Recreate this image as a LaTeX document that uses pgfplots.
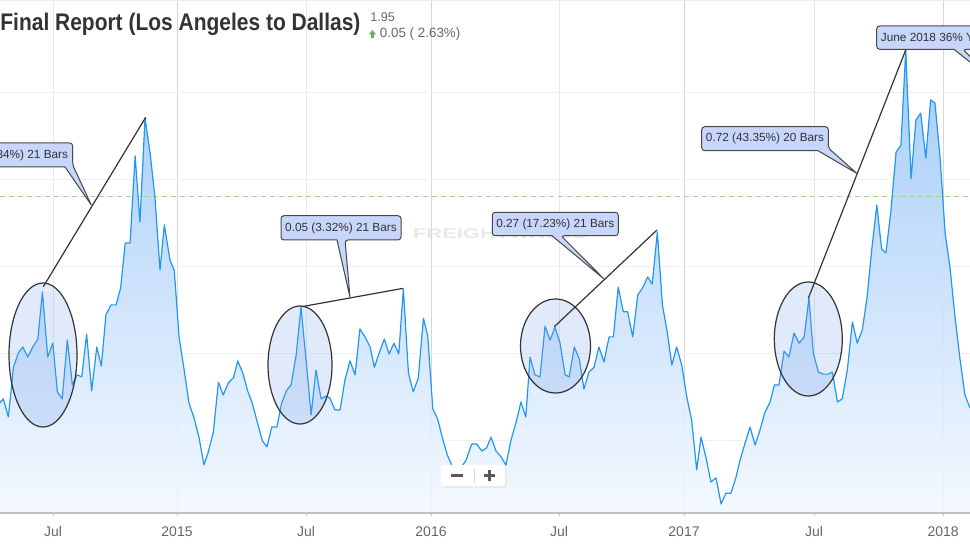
\documentclass[border=0pt]{standalone}
\usepackage{fontspec}
\setmainfont{Liberation Sans}
\usepackage{graphicx}
\usepackage{pgfplots}
\usepackage{pgfplotstable}
\pgfplotsset{compat=1.18}
\definecolor{lineblue}{RGB}{33,150,243}
\definecolor{areatop}{RGB}{155,198,248}
\definecolor{areabot}{RGB}{242,248,255}
\definecolor{callfill}{RGB}{199,214,250}
\definecolor{ellfill}{RGB}{120,160,232}
\definecolor{txtdark}{RGB}{51,51,51}
\definecolor{txtgray}{RGB}{102,102,102}
\definecolor{upgreen}{RGB}{102,178,80}
\definecolor{dashgreen}{RGB}{165,214,150}

\pgfplotstableread{
x y
2014.303 1.358
2014.316 1.370
2014.336 1.318
2014.356 1.461
2014.375 1.502
2014.393 1.519
2014.412 1.490
2014.432 1.519
2014.452 1.542
2014.470 1.677
2014.491 1.490
2014.511 1.530
2014.529 1.390
2014.548 1.370
2014.568 1.539
2014.588 1.410
2014.607 1.439
2014.625 1.433
2014.644 1.556
2014.664 1.393
2014.684 1.519
2014.702 1.464
2014.720 1.611
2014.740 1.640
2014.760 1.640
2014.778 1.689
2014.796 1.818
2014.815 1.818
2014.835 2.068
2014.854 1.878
2014.874 2.177
2014.894 2.076
2014.913 1.950
2014.933 1.740
2014.950 1.870
2014.972 1.769
2014.989 1.740
2015.008 1.548
2015.028 1.453
2015.047 1.358
2015.067 1.315
2015.087 1.257
2015.106 1.180
2015.123 1.217
2015.143 1.275
2015.163 1.418
2015.182 1.381
2015.202 1.416
2015.222 1.430
2015.239 1.479
2015.259 1.444
2015.278 1.393
2015.296 1.358
2015.316 1.303
2015.336 1.249
2015.354 1.232
2015.373 1.289
2015.393 1.289
2015.412 1.358
2015.432 1.395
2015.449 1.410
2015.469 1.496
2015.488 1.634
2015.508 1.482
2015.528 1.324
2015.547 1.453
2015.567 1.370
2015.587 1.378
2015.602 1.372
2015.622 1.338
2015.642 1.338
2015.661 1.424
2015.681 1.479
2015.701 1.439
2015.720 1.571
2015.740 1.548
2015.760 1.519
2015.777 1.461
2015.796 1.502
2015.816 1.542
2015.835 1.499
2015.854 1.530
2015.873 1.499
2015.891 1.686
2015.911 1.444
2015.930 1.390
2015.950 1.430
2015.970 1.602
2015.987 1.551
2016.007 1.341
2016.026 1.312
2016.044 1.260
2016.064 1.209
2016.083 1.177
2016.102 1.166
2016.122 1.177
2016.138 1.194
2016.160 1.240
2016.180 1.240
2016.200 1.220
2016.219 1.229
2016.236 1.260
2016.256 1.220
2016.276 1.203
2016.295 1.180
2016.315 1.252
2016.335 1.303
2016.354 1.361
2016.373 1.318
2016.390 1.490
2016.409 1.439
2016.429 1.433
2016.449 1.579
2016.469 1.539
2016.488 1.576
2016.508 1.530
2016.528 1.439
2016.544 1.433
2016.564 1.519
2016.584 1.484
2016.602 1.398
2016.622 1.447
2016.642 1.461
2016.661 1.519
2016.681 1.476
2016.701 1.548
2016.718 1.548
2016.737 1.691
2016.757 1.620
2016.774 1.620
2016.794 1.548
2016.814 1.668
2016.833 1.689
2016.853 1.720
2016.871 1.700
2016.891 1.849
2016.911 1.640
2016.930 1.562
2016.948 1.467
2016.967 1.519
2016.987 1.467
2017.007 1.375
2017.026 1.309
2017.046 1.166
2017.063 1.260
2017.083 1.200
2017.102 1.131
2017.122 1.143
2017.142 1.068
2017.161 1.099
2017.181 1.099
2017.200 1.143
2017.219 1.200
2017.239 1.249
2017.256 1.289
2017.276 1.237
2017.295 1.280
2017.315 1.332
2017.335 1.361
2017.352 1.410
2017.370 1.410
2017.390 1.507
2017.409 1.490
2017.429 1.559
2017.449 1.530
2017.469 1.548
2017.488 1.660
2017.505 1.502
2017.525 1.447
2017.544 1.441
2017.564 1.441
2017.580 1.447
2017.600 1.361
2017.619 1.370
2017.639 1.453
2017.659 1.591
2017.678 1.530
2017.698 1.568
2017.717 1.663
2017.735 1.798
2017.755 1.927
2017.774 1.801
2017.791 1.789
2017.811 1.913
2017.831 2.079
2017.850 2.099
2017.869 2.372
2017.890 2.002
2017.909 2.171
2017.928 2.191
2017.948 2.062
2017.967 2.229
2017.984 2.220
2018.004 2.065
2018.024 1.847
2018.043 1.749
2018.063 1.605
2018.083 1.482
2018.102 1.381
2018.122 1.344
}\rates

\begin{document}
\begin{tikzpicture}
\begin{axis}[
  scale only axis, width=485pt, height=256.5pt,
  xmin=2014.303, xmax=2018.122, ymin=1.042, ymax=2.516,
  axis line style={draw=none},
  no markers,
  /pgf/number format/assume math mode=true,
  xtick={2015,2016,2016.996,2018.016},
  xticklabels={2015,2016,2017,2018},
  extra x ticks={2014.512,2015.508,2016.504,2017.508},
  extra x tick labels={Jul,Jul,Jul,Jul},
  extra x tick style={major grid style={color=black!9, line width=0.5pt}},
  ytick=\empty,
  extra y ticks={1.25,1.5,1.75,2,2.25},
  extra y tick labels={},
  extra y tick style={major grid style={color=black!6, line width=0.5pt}, major tick length=0pt},
  xmajorgrids, ymajorgrids,
  major grid style={color=black!16, line width=0.5pt},
  tick align=outside,
  major tick length=1.6pt,
  xtick style={color=black!22, line width=0.5pt},
  tick label style={font=\fontsize{7}{8}\selectfont, text=txtgray},
  xticklabel style={yshift=-1.5pt},
]
\addplot[draw=none, top color=areatop, bottom color=areabot, fill opacity=0.9]
  table {\rates} -- (axis cs:2018.122,1.042) -- (axis cs:2014.303,1.042) -- cycle;
\addplot[dashgreen, dash pattern=on 2.5pt off 2pt, line width=0.5pt]
  coordinates {(2014.303,1.95) (2018.122,1.95)};
\addplot[lineblue, line width=0.6pt, line join=round] table {\rates};
\end{axis}
\pgfresetboundingbox
\path[use as bounding box] (current axis.north west) rectangle ([yshift=-16.5pt]current axis.south east);
\begin{scope}[x=0.5pt,y=-0.5pt,shift={(current axis.north west)},
  cstyle/.style={draw=black!72, line width=0.5pt, fill=callfill},
  ctext/.style={font=\fontsize{5.9}{7}\selectfont, text=txtdark, inner sep=0pt},
  ell/.style={draw=txtdark, line width=0.6pt, fill=ellfill, fill opacity=0.22}]
  % top band and axis line
  \fill[black!7] (0,0) rectangle (970,1.5);
  \draw[black!25, line width=0.6pt] (0,513) -- (970,513);
  % watermark
  \node[text=black!9, inner sep=0pt] at (500,233.5)
    {\resizebox{87pt}{\height}{\fontsize{7}{8}\selectfont\bfseries FREIGHTWAVES}};
  % ellipses
  \path[ell] (43,355) ellipse [x radius=34, y radius=72];
  \path[ell] (300,365) ellipse [x radius=32, y radius=59];
  \path[ell] (555.5,346) ellipse [x radius=35, y radius=47];
  \path[ell] (808.3,339) ellipse [x radius=34, y radius=57];
  % measuring lines
  \draw[txtdark, line width=0.6pt] (43.3,286.7) -- (145.7,117.3);
  \draw[txtdark, line width=0.6pt] (301.7,306.7) -- (403.3,288.3);
  \draw[txtdark, line width=0.6pt] (554.3,326.7) -- (657,230);
  \draw[txtdark, line width=0.6pt] (808.3,298.3) -- (906,49.3);
  % callouts
  \draw[cstyle, rounded corners=1.5pt] (-80,143) -- (72.7,143) -- (72.7,165)
     [sharp corners] -- (91.3,205) -- (65,167) [rounded corners=1.5pt] -- (-80,167) -- cycle;
  \node[ctext, anchor=east] at (68.5,155.5) {0.50 (29.34\%) 21 Bars};
  \draw[cstyle, rounded corners=1.5pt] (281,215.7) -- (401,215.7) -- (401,240) -- (345,240)
     [sharp corners] -- (350,297.3) -- (337,240) [rounded corners=1.5pt] -- (281,240) -- cycle;
  \node[ctext] at (341,228) {0.05 (3.32\%) 21 Bars};
  \draw[cstyle, rounded corners=1.5pt] (492.3,212.3) -- (618.3,212.3) -- (618.3,235.7) -- (561,235.7)
     [sharp corners] -- (604,279) -- (552,235.7) [rounded corners=1.5pt] -- (492.3,235.7) -- cycle;
  \node[ctext] at (555.3,224) {0.27 (17.23\%) 21 Bars};
  \draw[cstyle, rounded corners=1.5pt] (701.7,126.7) -- (828.3,126.7) -- (828.3,148)
     [sharp corners] -- (856.7,173.3) -- (818,150.7) [rounded corners=1.5pt] -- (701.7,150.7) -- cycle;
  \node[ctext] at (765,138.7) {0.72 (43.35\%) 20 Bars};
  \draw[cstyle, rounded corners=1.5pt] (876.7,26) -- (1010,26) -- (1010,49.3) -- (963,49.3)
     [sharp corners] -- (995,82) -- (954,49.3) [rounded corners=1.5pt] -- (876.7,49.3) -- cycle;
  \node[ctext, anchor=west] at (880.5,37.7) {June 2018 36\% YoY};
  % header
  \node[anchor=base west, inner sep=0pt, text=txtdark] at (0,31)
    {\resizebox{180pt}{\height}{\fontsize{12}{14}\selectfont\bfseries Final Report (Los Angeles to Dallas)}};
  \node[anchor=base west, inner sep=0pt, text=txtgray, font=\fontsize{6.3}{7}\selectfont] at (370,21.3) {1.95};
  \fill[upgreen] (369,34.5) -- (372.5,30) -- (376,34.5) -- cycle;
  \fill[upgreen] (371.4,34.3) rectangle (373.6,38);
  \node[anchor=base west, inner sep=0pt, text=txtgray, font=\fontsize{6.7}{8}\selectfont] at (379.5,38) {0.05 ( 2.63\%)};
  % zoom buttons
  \fill[black!9, rounded corners=1.5pt] (442,466.5) rectangle (506.5,488);
  \fill[white, rounded corners=1.5pt] (441,465) rectangle (505,486.5);
  \draw[black!15, line width=0.5pt] (474,468.5) -- (474,483);
  \fill[black!65] (450.5,474.3) rectangle (463,477.3);
  \fill[black!65] (483.8,474.2) rectangle (495.2,477.2);
  \fill[black!65] (488,470) rectangle (491,481.4);
\end{scope}
\end{tikzpicture}
\end{document}
